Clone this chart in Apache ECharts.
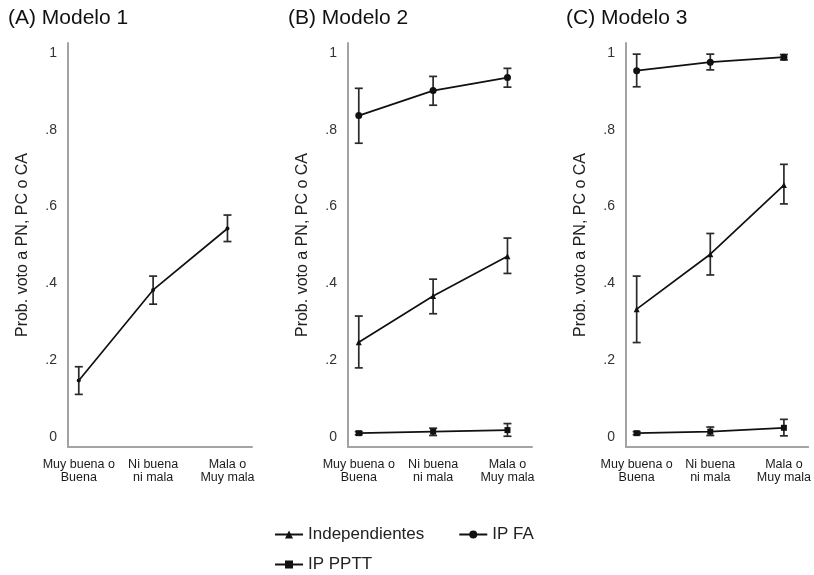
<!DOCTYPE html>
<html>
<head>
<meta charset="utf-8">
<script src="https://cdn.jsdelivr.net/npm/echarts@6/dist/echarts.min.js"></script>
<style>html,body{margin:0;padding:0;background:#fff}#c{width:814px;height:575px}</style>
</head>
<body>
<div id="c"></div>
<script>
// ---- data ----
const categories = ['Muy buena o\nBuena', 'Ni buena\nni mala', 'Mala o\nMuy mala'];
const yTicks = [0, 0.2, 0.4, 0.6, 0.8, 1];
const panelTitles = ['(A) Modelo 1', '(B) Modelo 2', '(C) Modelo 3'];
const yAxisTitle = 'Prob. voto a PN, PC o CA';

// Modelo 1
const m1Est = [0.147, 0.383, 0.543];
const m1Lo  = [0.111, 0.346, 0.509];
const m1Hi  = [0.183, 0.419, 0.578];

// Modelo 2
const m2IndepEst = [0.247, 0.367, 0.471];
const m2IndepLo  = [0.180, 0.321, 0.426];
const m2IndepHi  = [0.315, 0.411, 0.518];
const m2FaEst = [0.837, 0.902, 0.936];
const m2FaLo  = [0.765, 0.864, 0.911];
const m2FaHi  = [0.908, 0.939, 0.960];
const m2PpttEst = [0.010, 0.014, 0.018];
const m2PpttLo  = [0.006, 0.004, 0.002];
const m2PpttHi  = [0.014, 0.023, 0.035];

// Modelo 3
const m3IndepEst = [0.333, 0.476, 0.656];
const m3IndepLo  = [0.246, 0.422, 0.607];
const m3IndepHi  = [0.419, 0.530, 0.710];
const m3FaEst = [0.954, 0.976, 0.989];
const m3FaLo  = [0.912, 0.956, 0.982];
const m3FaHi  = [0.997, 0.997, 0.996];
const m3PpttEst = [0.010, 0.014, 0.024];
const m3PpttLo  = [0.006, 0.004, 0.003];
const m3PpttHi  = [0.014, 0.026, 0.046];

// ---- chart ----
const FONT = 'Liberation Sans, Arial, sans-serif';
const AXIS_COLOR = '#a3a3a3';
const gridLefts = [68, 348, 626];
const gridW = 184;

const chart = echarts.init(document.getElementById('c'), null, {renderer: 'canvas'});

const grids = [], xAxes = [], yAxes = [], titles = [], series = [];

gridLefts.forEach((l, i) => {
  grids.push({left: l, top: 43, width: gridW, height: 404, containLabel: false});
  titles.push({
    text: panelTitles[i], left: l - 60, top: 8, padding: 0,
    textStyle: {fontFamily: FONT, fontSize: 21, fontWeight: 'normal', color: '#111'}
  });
  xAxes.push({
    type: 'value', gridIndex: i, min: 0.855, max: 3.33,
    axisLine: {show: true, onZero: false, lineStyle: {color: AXIS_COLOR, width: 2}},
    axisTick: {show: false}, splitLine: {show: false},
    axisLabel: {
      customValues: [1, 2, 3],
      formatter: v => categories[Math.round(v) - 1],
      fontFamily: FONT, fontSize: 12.5, lineHeight: 13, color: '#1a1a1a', margin: 11
    }
  });
  yAxes.push({
    type: 'value', gridIndex: i, min: -0.026, max: 1.026,
    name: yAxisTitle, nameLocation: 'middle', nameGap: 37,
    nameTextStyle: {fontFamily: FONT, fontSize: 16, color: '#222'},
    axisLine: {show: true, onZero: false, lineStyle: {color: AXIS_COLOR, width: 2}},
    axisTick: {show: false}, splitLine: {show: false},
    axisLabel: {
      customValues: yTicks,
      formatter: v => (v === 0 ? '0' : v === 1 ? '1' : String(Math.round(v * 10) / 10).replace(/^0/, '')),
      fontFamily: FONT, fontSize: 14, color: '#333', margin: 11
    }
  });
});

function errSeries(idx, lo, hi) {
  return {
    type: 'custom', xAxisIndex: idx, yAxisIndex: idx, silent: true, z: 2,
    data: lo.map((v, k) => [k + 1, v, hi[k]]),
    renderItem: (params, api) => {
      const p1 = api.coord([api.value(0), api.value(1)]);
      const p2 = api.coord([api.value(0), api.value(2)]);
      const w = 4;
      const style = {stroke: '#2a2a2a', lineWidth: 1.7};
      return {type: 'group', children: [
        {type: 'line', shape: {x1: p1[0], y1: p1[1], x2: p2[0], y2: p2[1]}, style},
        {type: 'line', shape: {x1: p1[0] - w, y1: p1[1], x2: p1[0] + w, y2: p1[1]}, style},
        {type: 'line', shape: {x1: p2[0] - w, y1: p2[1], x2: p2[0] + w, y2: p2[1]}, style}
      ]};
    }
  };
}
function lineSeries(idx, name, est, symbol, size) {
  return {
    type: 'line', name, xAxisIndex: idx, yAxisIndex: idx, z: 3,
    data: est.map((v, k) => [k + 1, v]),
    symbol, symbolSize: size, showSymbol: true,
    itemStyle: {color: '#111'},
    lineStyle: {color: '#111', width: 1.7},
    animation: false
  };
}

// Panel A
series.push(errSeries(0, m1Lo, m1Hi));
series.push(lineSeries(0, 'Modelo 1', m1Est, 'circle', 4));
// Panel B
series.push(errSeries(1, m2IndepLo, m2IndepHi));
series.push(errSeries(1, m2FaLo, m2FaHi));
series.push(errSeries(1, m2PpttLo, m2PpttHi));
series.push(lineSeries(1, 'Independientes', m2IndepEst, 'triangle', 6));
series.push(lineSeries(1, 'IP FA', m2FaEst, 'circle', 7));
series.push(lineSeries(1, 'IP PPTT', m2PpttEst, 'rect', 6));
// Panel C
series.push(errSeries(2, m3IndepLo, m3IndepHi));
series.push(errSeries(2, m3FaLo, m3FaHi));
series.push(errSeries(2, m3PpttLo, m3PpttHi));
series.push(lineSeries(2, 'Independientes', m3IndepEst, 'triangle', 6));
series.push(lineSeries(2, 'IP FA', m3FaEst, 'circle', 7));
series.push(lineSeries(2, 'IP PPTT', m3PpttEst, 'rect', 6));

const legendText = {fontFamily: FONT, fontSize: 17, color: '#222'};
chart.setOption({
  animation: false,
  backgroundColor: '#fff',
  title: titles,
  grid: grids,
  xAxis: xAxes,
  yAxis: yAxes,
  legend: [
    {data: ['Independientes', 'IP FA'], left: 274, top: 526, padding: 0, itemWidth: 28, itemHeight: 10,
     itemGap: 34, textStyle: legendText, selectedMode: false},
    {data: ['IP PPTT'], left: 274, top: 556, padding: 0, itemWidth: 28, itemHeight: 10,
     textStyle: legendText, selectedMode: false}
  ],
  series
});
</script>
</body>
</html>
